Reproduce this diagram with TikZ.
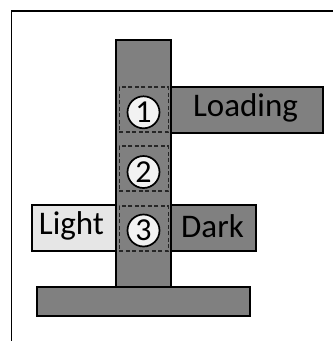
\documentclass[tikz,border=0pt]{standalone}
\usepackage{fontspec}
\setmainfont{Carlito}
\definecolor{darkfill}{HTML}{808080}
\definecolor{lightfill}{HTML}{E6E6E6}
\definecolor{circfill}{HTML}{F2F2F2}
\definecolor{dashcol}{HTML}{262626}
\begin{document}
\begin{tikzpicture}[x=1pt,y=-1pt,
  blk/.style={draw=black, line width=2pt, fill=darkfill, inner sep=0pt, rectangle},
  lblk/.style={blk, fill=lightfill},
  zone/.style={draw=dashcol, dash pattern=on 4pt off 2.5pt, line width=1.2pt, inner sep=0pt, rectangle, minimum width=49pt, minimum height=45pt},
  num/.style={circle, draw=black, line width=1.7pt, fill=circfill, minimum size=32pt, inner sep=0pt, font=\fontsize{32}{32}\selectfont},
  lbl/.style={font=\fontsize{33}{33}\selectfont}]
\useasboundingbox (0,0) rectangle (333,341);
\fill[white] (0,0) rectangle (333,341);
\draw[line width=1.5pt] (11.5,341) -- (11.5,11) -- (333,11);
% column and base
\node[blk, minimum width=55pt, minimum height=247pt] (col) at (143.5,163.5) {};
\node[blk, minimum width=213pt, minimum height=29pt] (base) at (143.5,301.5) {};
% arms
\node[blk, minimum width=152pt, minimum height=46pt] (load) at (247,110) {};
\node[lblk, minimum width=84pt, minimum height=46pt] (light) at (74,228) {};
\node[blk, minimum width=85pt, minimum height=46pt] (dark) at (213.5,228) {};
\node[lbl] at (245.5,108) {Loading};
\node[lbl] at (71.5,226) {Light};
\node[lbl] at (212.5,226) {Dark};
% zones
\node[zone] (z1) at (143.8,109.5) {};
\node[zone] (z2) at (143.8,168.5) {};
\node[zone] (z3) at (143.8,228.5) {};
\node[num] (n1) at (143.5,112.3) {1};
\node[num] (n2) at (143.5,172) {2};
\node[num] (n3) at (143.5,230.5) {3};
\end{tikzpicture}
\end{document}
